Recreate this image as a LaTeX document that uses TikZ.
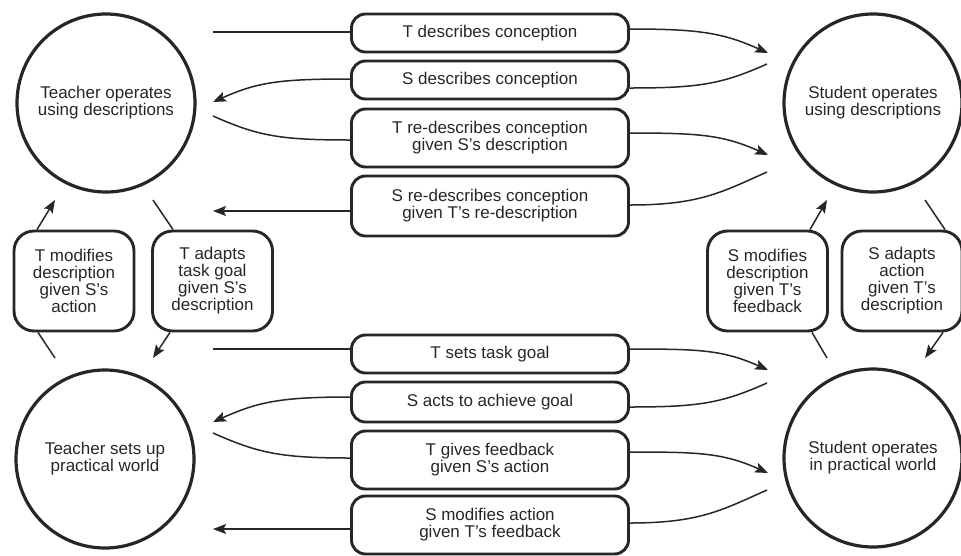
\documentclass[tikz,border=0pt]{standalone}
\usepackage{fontspec}
\setmainfont{Liberation Sans}
\usetikzlibrary{arrows.meta,calc}
\definecolor{ink}{HTML}{262626}
\begin{document}
\begin{tikzpicture}[x=1pt,y=-1pt,
  every node/.style={text=ink, font=\fontsize{17}{17}\selectfont, align=center},
  stage/.style={circle, draw=ink, line width=3.2pt, minimum size=178pt, inner sep=0pt},
  msg/.style={draw=ink, line width=2.9pt, rounded corners=14pt, minimum width=277pt, inner sep=0pt},
  adapt/.style={draw=ink, line width=2.9pt, rounded corners=20pt, minimum width=120pt, minimum height=100pt, inner sep=0pt},
  link/.style={draw=ink, line width=1.5pt},
  flow/.style={link, -{Stealth[length=13pt,width=10pt,inset=2.5pt]}}]

\useasboundingbox (0,0) rectangle (961,555);

% the four states
\node[stage] (tdesc) at (106,103) {Teacher operates\\using descriptions};
\node[stage] (sdesc) at (873,103) {Student operates\\using descriptions};
\node[stage] (tprac) at (105,459) {Teacher sets up\\practical world};
\node[stage] (sprac) at (873,458) {Student operates\\in practical world};

% exchanges at the level of descriptions
\node[msg, minimum height=38pt] (m1) at (490,33) {T describes conception};
\node[msg, minimum height=38pt] (m2) at (490,80) {S describes conception};
\node[msg, minimum height=58pt] (m3) at (490,138) {T re-describes conception\\given S's description};
\node[msg, minimum height=60pt] (m4) at (490,206) {S re-describes conception\\given T's re-description};

% exchanges in the practical world
\node[msg, minimum height=38pt] (m5) at (490,354) {T sets task goal};
\node[msg, minimum height=40pt] (m6) at (490,402) {S acts to achieve goal};
\node[msg, minimum height=58pt] (m7) at (490,460) {T gives feedback\\given S's action};
\node[msg, minimum height=58pt] (m8) at (490,525) {S modifies action\\given T's feedback};

% adaptation steps between the levels
\node[adapt] (tm) at (74,281) {T modifies\\description\\given S's\\action};
\node[adapt] (ta) at (212.5,281) {T adapts\\task goal\\given S's\\description};
\node[adapt] (sm) at (767.5,281) {S modifies\\description\\given T's\\feedback};
\node[adapt] (sa) at (902,281) {S adapts\\action\\given T's\\description};

% free ends next to the teacher circles
\coordinate (a1) at (213,32);
\coordinate (a2) at (213,102);
\coordinate (a3) at (213,116);
\coordinate (a4) at (213,211);
\coordinate (c5) at (213,349);
\coordinate (c6) at (213,422);
\coordinate (c7) at (213,433);
\coordinate (c8) at (213,529);
% free ends next to the student circles
\coordinate (b1) at (768,53);
\coordinate (b2) at (767,64);
\coordinate (b3) at (768,155);
\coordinate (b4) at (767,172);
\coordinate (d5) at (768,370);
\coordinate (d6) at (767,383);
\coordinate (d7) at (768,473);
\coordinate (d8) at (767,490);

% upper dialogue
\draw[link] (a1) -- (m1.west |- a1);
\draw[flow] (m1.east |- 0,29) .. controls +(70,0) and +(-45,-20) .. (b1);
\draw[link] (b2) .. controls +(-45,20) and +(70,0) .. (m2.east |- 0,88);
\draw[flow] (m2.west |- 0,79) .. controls +(-70,0) and +(45,-20) .. (a2);
\draw[link] (a3) .. controls +(45,20) and +(-70,0) .. (m3.west |- 0,140);
\draw[flow] (m3.east |- 0,133) .. controls +(70,0) and +(-45,-20) .. (b3);
\draw[link] (b4) .. controls +(-45,20) and +(70,0) .. (m4.east |- 0,205);
\draw[flow] (m4.west |- a4) -- (a4);

% lower dialogue
\draw[link] (c5) -- (m5.west |- c5);
\draw[flow] (m5.east |- 0,349) .. controls +(70,0) and +(-45,-20) .. (d5);
\draw[link] (d6) .. controls +(-45,20) and +(70,0) .. (m6.east |- 0,407);
\draw[flow] (m6.west |- 0,397) .. controls +(-70,0) and +(45,-20) .. (c6);
\draw[link] (c7) .. controls +(45,20) and +(-70,0) .. (m7.west |- 0,458);
\draw[flow] (m7.east |- 0,452) .. controls +(70,0) and +(-45,-20) .. (d7);
\draw[link] (d8) .. controls +(-45,20) and +(70,0) .. (m8.east |- 0,523);
\draw[flow] (m8.west |- c8) -- (c8);

% teacher side: between description level and practical world
\coordinate (e1) at (55,200);
\coordinate (e2) at (153,200);
\coordinate (e3) at (55,358);
\coordinate (e4) at (153,358);
\draw[flow] (tm.north -| 37,0) -- (e1);
\draw[link] (e2) -- (ta.north -| 173,0);
\draw[link] (tm.south -| 38,0) -- (e3);
\draw[flow] (ta.south -| 170,0) -- (e4);

% student side
\coordinate (f1) at (827,200);
\coordinate (f2) at (925,200);
\coordinate (f3) at (827,358);
\coordinate (f4) at (925,358);
\draw[flow] (sm.north -| 810,0) -- (f1);
\draw[link] (f2) -- (sa.north -| 945,0);
\draw[link] (sm.south -| 812,0) -- (f3);
\draw[flow] (sa.south -| 943,0) -- (f4);
\end{tikzpicture}
\end{document}
